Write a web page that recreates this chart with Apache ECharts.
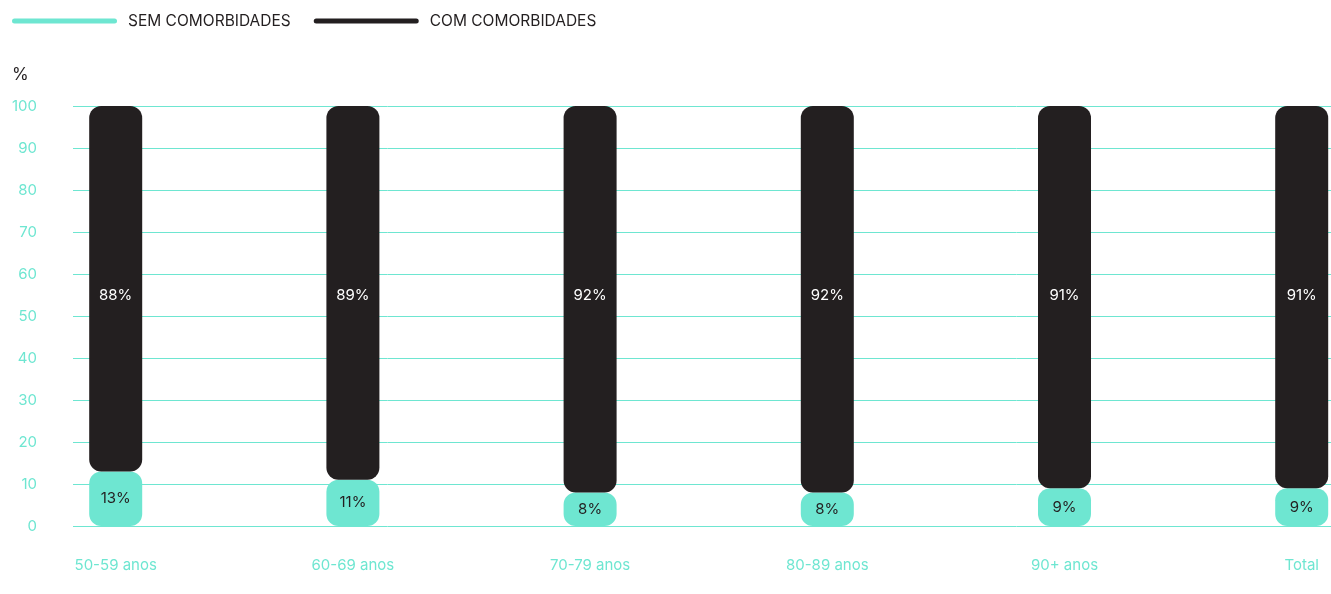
<!DOCTYPE html>
<html>
<head>
<meta charset="utf-8">
<script src="https://cdn.jsdelivr.net/npm/echarts@6/dist/echarts.min.js"></script>
<style>
  html, body { margin: 0; padding: 0; background: #ffffff; }
  #chart { width: 1331px; height: 594px; }
</style>
</head>
<body>
<div id="chart"></div>
<script>
// Age groups along the x axis
const categories = ['50-59 anos', '60-69 anos', '70-79 anos', '80-89 anos', '90+ anos', 'Total'];
// Share of deaths (%) without / with comorbidities
const semComorbidades = [13, 11, 8, 8, 9, 9];
const comComorbidades = [88, 89, 92, 92, 91, 91];
const yTicks = [0, 10, 20, 30, 40, 50, 60, 70, 80, 90, 100];

const MINT = '#6ee6d1';
const DARK = '#231f20';
const FONT = 'Inter, "Noto Sans", sans-serif';

const chart = echarts.init(document.getElementById('chart'), null, { renderer: 'canvas' });

const legendIcon = 'path://M2.5,0 H102.5 A2.5,2.5 0 0 1 102.5,5 H2.5 A2.5,2.5 0 0 1 2.5,0 Z';

// Band layout: each category gets an equal slot; the bar grid is wider than
// the gridline grid so the outer bars sit inside the ruled area.
const BAND = 237.2;
const FIRST_CENTER = 115.7;
const barGridLeft = FIRST_CENTER - BAND / 2;
const barGridWidth = BAND * categories.length;

chart.setOption({
  animation: false,
  backgroundColor: '#ffffff',
  textStyle: { fontFamily: FONT },
  title: {
    text: '%',
    left: 7,
    top: 61,
    textStyle: { color: DARK, fontSize: 17, fontWeight: 'normal', fontFamily: FONT }
  },
  legend: {
    left: 7,
    top: 8,
    itemWidth: 105,
    itemHeight: 5,
    itemGap: 23,
    icon: legendIcon,
    textStyle: { color: DARK, fontSize: 15.5, fontFamily: FONT, padding: [0, 0, 0, 6] },
    data: ['SEM COMORBIDADES', 'COM COMORBIDADES']
  },
  grid: [
    { left: 73, right: 0, top: 106, bottom: 68, containLabel: false, outerBoundsMode: 'none' },
    { left: barGridLeft, width: barGridWidth, top: 106, bottom: 68, containLabel: false, outerBoundsMode: 'none' }
  ],
  xAxis: [
    { type: 'value', gridIndex: 0, min: 0, max: 1, show: false },
    {
      type: 'category',
      gridIndex: 1,
      data: categories,
      boundaryGap: true,
      axisLine: { show: false },
      axisTick: { show: false },
      axisLabel: { color: MINT, fontSize: 15, fontFamily: FONT, margin: 32, interval: 0 }
    }
  ],
  yAxis: [
    {
      type: 'value',
      gridIndex: 0,
      min: yTicks[0],
      max: yTicks[yTicks.length - 1],
      interval: 10,
      axisLine: { show: false },
      axisTick: { show: false },
      axisLabel: { color: MINT, fontSize: 15, fontFamily: FONT, margin: 36 },
      splitLine: { lineStyle: { color: MINT, width: 1 } }
    },
    {
      type: 'value',
      gridIndex: 1,
      min: yTicks[0],
      max: yTicks[yTicks.length - 1],
      interval: 10,
      show: false,
      splitLine: { show: false }
    }
  ],
  series: [
    {
      name: 'SEM COMORBIDADES',
      type: 'bar',
      xAxisIndex: 1,
      yAxisIndex: 1,
      stack: 'total',
      barWidth: 53,
      data: semComorbidades,
      itemStyle: { color: MINT, borderRadius: 12 },
      label: {
        show: true,
        position: 'inside',
        color: DARK,
        fontSize: 15,
        fontFamily: FONT,
        formatter: '{c}%'
      }
    },
    {
      name: 'COM COMORBIDADES',
      type: 'bar',
      xAxisIndex: 1,
      yAxisIndex: 1,
      stack: 'total',
      barWidth: 53,
      data: comComorbidades,
      itemStyle: { color: DARK, borderRadius: 12 },
      label: {
        show: true,
        position: ['50%', 189],
        align: 'center',
        verticalAlign: 'middle',
        color: '#ffffff',
        fontSize: 15,
        fontFamily: FONT,
        formatter: '{c}%'
      }
    }
  ]
});
</script>
</body>
</html>
